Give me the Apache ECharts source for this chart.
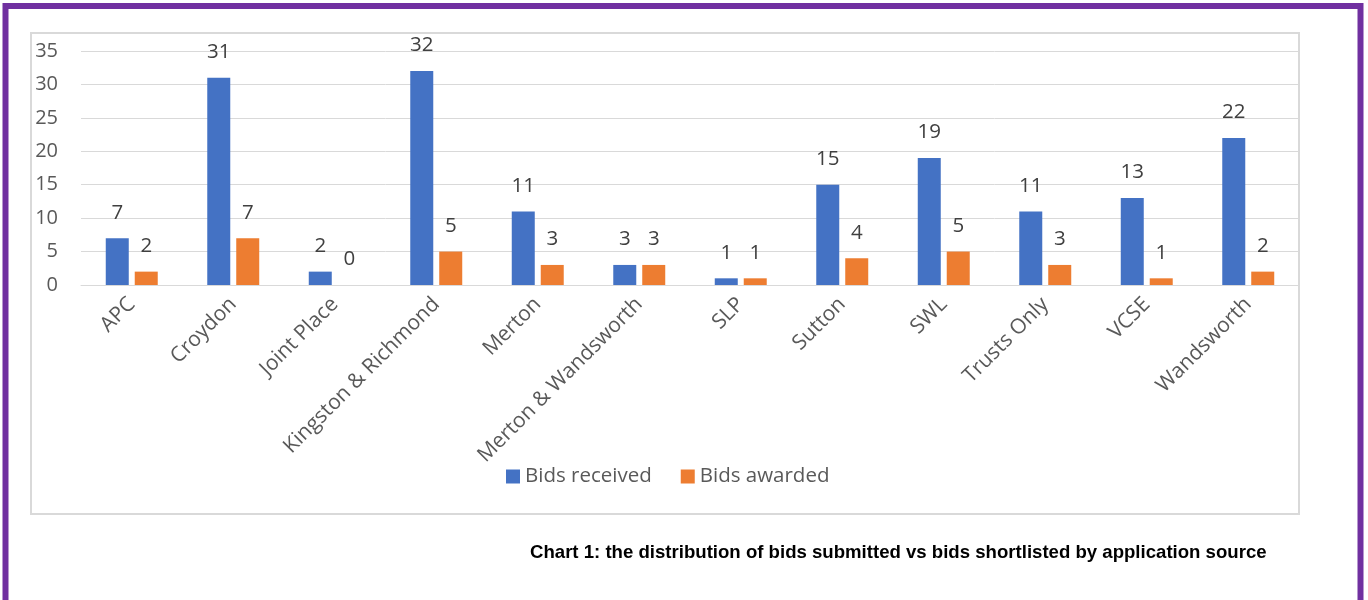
<!DOCTYPE html>
<html><head><meta charset="utf-8">
<script src="https://cdn.jsdelivr.net/npm/echarts@6/dist/echarts.min.js"></script>
<style>html,body{margin:0;padding:0;background:#fff}#c{width:1368px;height:600px}</style>
</head><body><div id="c"></div>
<script>
var categories = ["APC","Croydon","Joint Place","Kingston & Richmond","Merton","Merton & Wandsworth","SLP","Sutton","SWL","Trusts Only","VCSE","Wandsworth"];
var bidsReceived = [7,31,2,32,11,3,1,15,19,11,13,22];
var bidsAwarded = [2,7,0,5,3,3,1,4,5,3,1,2];
var yTicks = {min:0, max:35, interval:5};
var caption = "Chart 1: the distribution of bids submitted vs bids shortlisted by application source";

var font = "Open Sans";
var chart = echarts.init(document.getElementById('c'));
var lbl = {show:true, position:'top', distance:15, color:'#404040', fontSize:20.5, fontFamily:font};
chart.setOption({
  animation:false,
  textStyle:{fontFamily:font},
  graphic:[
    {type:'rect', shape:{x:5.5, y:6, width:1355, height:700}, style:{fill:'none', stroke:'#7030A0', lineWidth:6}, z:0},
    {type:'rect', shape:{x:31, y:33, width:1268, height:481}, style:{fill:'none', stroke:'#d9d9d9', lineWidth:2}, z:0},
    {type:'text', left:530, top:543, style:{text:caption, fill:'#000', font:'bold 18.6px "Liberation Sans", Arial, sans-serif'}}
  ],
  grid:{left:81, right:69, top:51, bottom:315, containLabel:false},
  legend:{left:506, top:466, padding:0, itemWidth:14, itemHeight:14, itemGap:29, icon:'rect',
    textStyle:{fontSize:20.5, color:'#595959', fontFamily:font},
    data:['Bids received','Bids awarded']},
  xAxis:{type:'category', data:categories,
    axisLine:{lineStyle:{color:'#d9d9d9', width:1}}, axisTick:{show:false},
    axisLabel:{rotate:45, fontSize:21, color:'#595959', margin:16, interval:0, fontFamily:font}},
  yAxis:{type:'value', min:yTicks.min, max:yTicks.max, interval:yTicks.interval,
    axisLine:{show:false}, axisTick:{show:false},
    splitLine:{lineStyle:{color:'#d9d9d9', width:1}},
    axisLabel:{fontSize:20, color:'#595959', margin:23, fontFamily:font}},
  series:[
    {name:'Bids received', type:'bar', data:bidsReceived, barWidth:23, barGap:'26%', itemStyle:{color:'#4472C4'}, label:lbl},
    {name:'Bids awarded', type:'bar', data:bidsAwarded, barWidth:23, itemStyle:{color:'#ED7D31'}, label:lbl}
  ]
});
</script></body></html>
